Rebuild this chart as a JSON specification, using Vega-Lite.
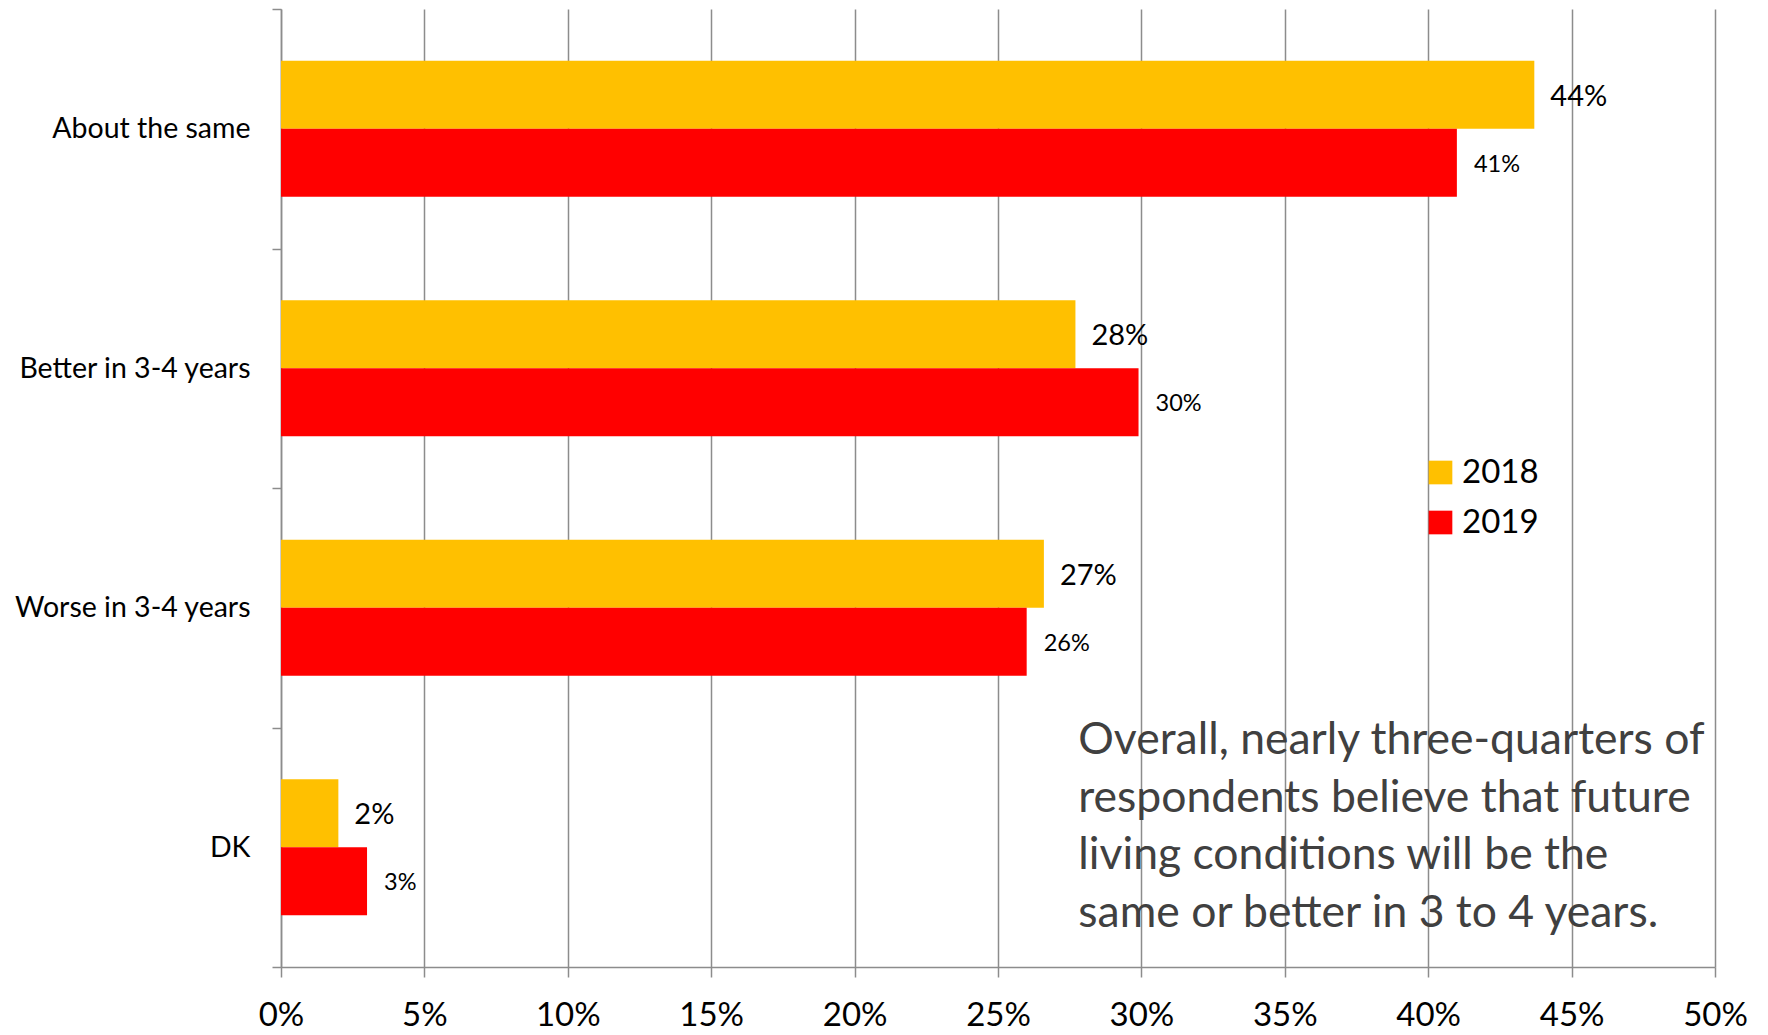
{
  "$schema": "https://vega.github.io/schema/vega-lite/v6.json",
  "width": 1434,
  "height": 958,
  "autosize": {"type": "none"},
  "padding": {"left": 281, "top": 9, "right": 53, "bottom": 68},
  "background": "white",
  "config": {"view": {"stroke": null}, "font": "Lato"},
  "data": {
    "values": [
      {"category": "About the same", "year": "2018", "value": 0.437},
      {"category": "About the same", "year": "2019", "value": 0.41},
      {"category": "Better in 3-4 years", "year": "2018", "value": 0.277},
      {"category": "Better in 3-4 years", "year": "2019", "value": 0.299},
      {"category": "Worse in 3-4 years", "year": "2018", "value": 0.266},
      {"category": "Worse in 3-4 years", "year": "2019", "value": 0.26},
      {"category": "DK", "year": "2018", "value": 0.02},
      {"category": "DK", "year": "2019", "value": 0.03}
    ]
  },
  "layer": [
    {
      "mark": {"type": "bar"},
      "encoding": {
        "y": {
          "field": "category", "type": "nominal",
          "sort": ["About the same", "Better in 3-4 years", "Worse in 3-4 years", "DK"],
          "scale": {"paddingInner": 0, "paddingOuter": 0},
          "axis": {
            "title": null, "grid": false, "tickBand": "extent", "tickSize": 9, "tickWidth": 1.5,
            "tickColor": "#8c8c8c", "domainColor": "#8c8c8c", "domainWidth": 1.5,
            "labelFontSize": 28.5, "labelColor": "#000000", "labelPadding": 22, "labelLimit": 0
          }
        },
        "yOffset": {"field": "year", "type": "nominal", "scale": {"paddingInner": 0, "paddingOuter": 0.762}},
        "x": {
          "field": "value", "type": "quantitative",
          "scale": {"domain": [0, 0.5], "nice": false},
          "axis": {
            "title": null, "format": ".0%", "values": [0, 0.05, 0.1, 0.15, 0.2, 0.25, 0.3, 0.35, 0.4, 0.45, 0.5],
            "grid": true, "gridColor": "#8c8c8c", "gridWidth": 1.5,
            "domainColor": "#8c8c8c", "domainWidth": 1.5,
            "tickColor": "#8c8c8c", "tickSize": 10, "tickWidth": 1.5,
            "labelFontSize": 33, "labelColor": "#000000", "labelPadding": 22,
            "labelFlush": false, "labelOverlap": false
          }
        },
        "color": {
          "field": "year", "type": "nominal",
          "scale": {"domain": ["2018", "2019"], "range": ["#FFC000", "#FF0000"]},
          "legend": {
            "orient": "none", "legendX": 1143, "legendY": 447, "title": null,
            "symbolType": "square", "symbolSize": 560, "symbolStrokeWidth": 0,
            "labelFontSize": 33, "labelColor": "#000000", "rowPadding": 16, "labelOffset": 5, "padding": 0
          }
        }
      }
    },
    {
      "transform": [{"filter": "datum.year === '2018'"}],
      "mark": {"type": "text", "align": "left", "baseline": "middle", "dx": 16, "dy": 2, "fontSize": 29, "color": "#000000"},
      "encoding": {
        "y": {"field": "category", "type": "nominal", "sort": ["About the same", "Better in 3-4 years", "Worse in 3-4 years", "DK"]},
        "yOffset": {"field": "year", "type": "nominal"},
        "x": {"field": "value", "type": "quantitative"},
        "text": {"field": "value", "type": "quantitative", "format": ".0%"}
      }
    },
    {
      "transform": [{"filter": "datum.year === '2019'"}],
      "mark": {"type": "text", "align": "left", "baseline": "middle", "dx": 17, "dy": 2, "fontSize": 23.5, "color": "#000000"},
      "encoding": {
        "y": {"field": "category", "type": "nominal", "sort": ["About the same", "Better in 3-4 years", "Worse in 3-4 years", "DK"]},
        "yOffset": {"field": "year", "type": "nominal"},
        "x": {"field": "value", "type": "quantitative"},
        "text": {"field": "value", "type": "quantitative", "format": ".0%"}
      }
    },
    {
      "data": {"values": [{"note": ["Overall, nearly three-quarters of", "respondents believe that future", "living conditions will be the", "same or better in 3 to 4 years."]}]},
      "mark": {"type": "text", "align": "left", "baseline": "middle", "fontSize": 44.5, "lineHeight": 57.5, "color": "#404040", "dy": -106},
      "encoding": {
        "x": {"datum": 0.278, "type": "quantitative"},
        "y": {"datum": "DK", "type": "nominal"},
        "text": {"field": "note"}
      }
    }
  ]
}
